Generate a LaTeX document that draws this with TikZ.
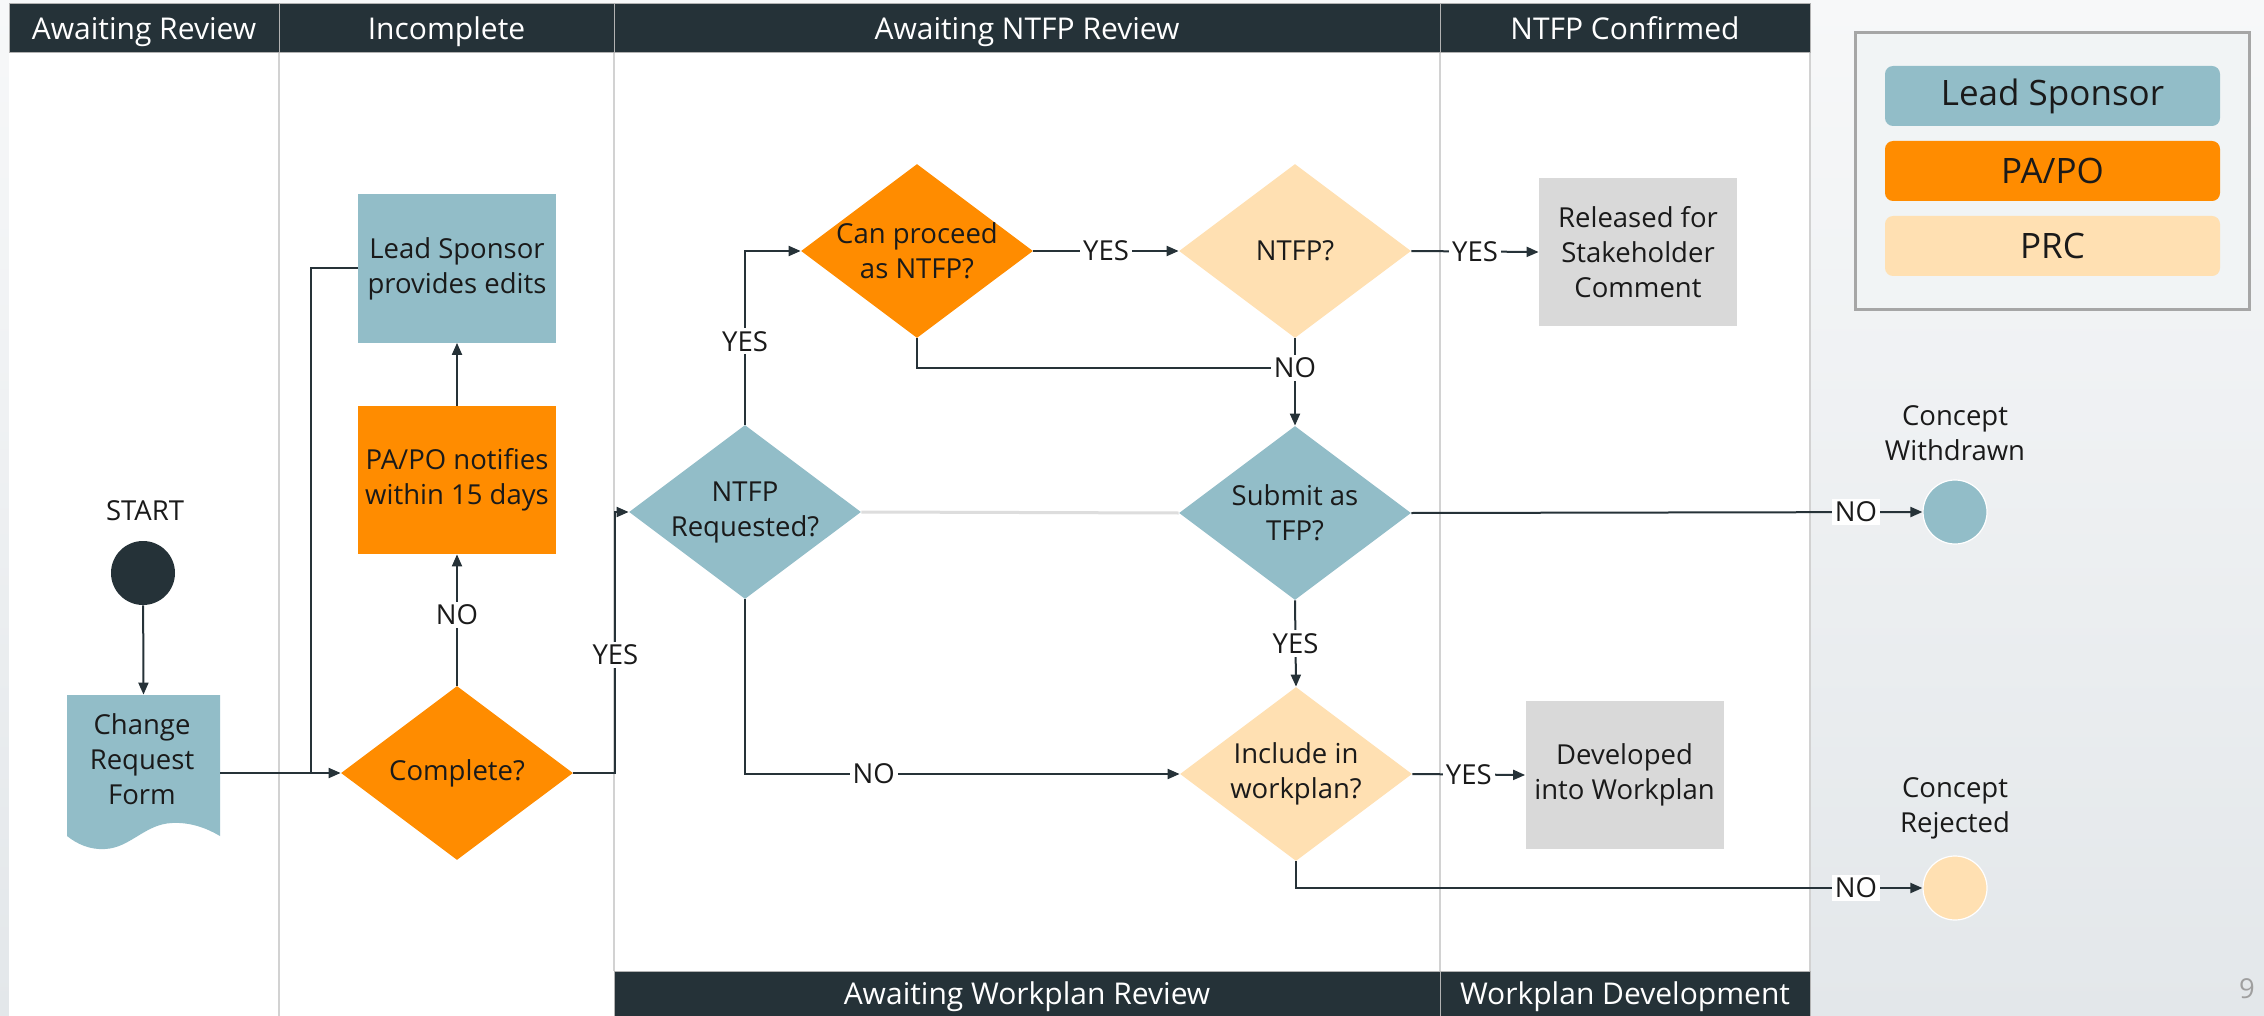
\documentclass[tikz,border=0pt]{standalone}
\usepackage{fontspec}
\setmainfont{Open Sans}
\usetikzlibrary{shapes.geometric,arrows.meta}
\definecolor{hdr}{HTML}{253238}
\definecolor{tealc}{HTML}{92BDC8}
\definecolor{orng}{HTML}{FF8C00}
\definecolor{peach}{HTML}{FFE0B2}
\definecolor{lgray}{HTML}{D9D9D9}
\definecolor{ink}{HTML}{263238}
\definecolor{txt}{HTML}{1A1A1A}
\definecolor{lanec}{HTML}{D2D2D2}
\definecolor{bgtop}{HTML}{F7F8F9}
\definecolor{bgbot}{HTML}{E3E7EA}
\definecolor{legfill}{HTML}{F1F4F5}
\definecolor{legbd}{HTML}{A6A6A6}
\newcommand\myfont{\fontsize{13.75pt}{17.5pt}\selectfont}
\newcommand\hdrfont{\fontsize{15pt}{18pt}\selectfont}
\tikzset{
  hdrcell/.style={fill=hdr, draw=gray!60, line width=0.5pt, text=white, font=\hdrfont, inner sep=0pt, text height=10.7pt, text depth=0pt},
  box/.style={minimum width=99pt, minimum height=74pt, inner sep=0pt, align=center, text=txt, font=\myfont},
  dia/.style={diamond, aspect=1.333, minimum width=116pt, minimum height=87pt, inner sep=0pt},
  dtext/.style={align=center, text=txt, font=\myfont, inner sep=0pt},
  conn/.style={draw=ink, line width=1pt},
  arr/.style={conn, -{Triangle[length=6pt,width=5pt]}},
  lbl/.style={fill=white, inner sep=1.5pt, text=txt, font=\myfont},
  endc/.style={circle, minimum size=32pt, inner sep=0pt},
  legitem/.style={rounded corners=4pt, minimum width=167.5pt, minimum height=30pt, inner sep=0pt, font=\fontsize{17.5pt}{20pt}\selectfont, text=txt},
  lanel/.style={draw=lanec, line width=0.6pt}
}
\begin{document}
\begin{tikzpicture}[x=0.5pt,y=-0.5pt]
\useasboundingbox (0,0) rectangle (2264,1016);
\shade[top color=bgtop, bottom color=bgbot] (0,0) rectangle (2264,1016);
\fill[white] (9,53) rectangle (1810,1016);
% lane dividers
\draw[lanel] (279,53) -- (279,1016);
\draw[lanel] (614,53) -- (614,971);
\draw[lanel] (1440,53) -- (1440,971);
\draw[lanel] (1810,53) -- (1810,1016);
% headers
\node[hdrcell, minimum width=135pt, minimum height=24.5pt] (h1) at (144,28.5) {Awaiting Review};
\node[hdrcell, minimum width=167.5pt, minimum height=24.5pt] (h2) at (446.5,28.5) {Incomplete};
\node[hdrcell, minimum width=413pt, minimum height=24.5pt] (h3) at (1027,28.5) {Awaiting NTFP Review};
\node[hdrcell, minimum width=185pt, minimum height=24.5pt] (h4) at (1625,28.5) {NTFP Confirmed};
\node[hdrcell, minimum width=413pt, minimum height=22.5pt] (h5) at (1027,993.5) {Awaiting Workplan Review};
\node[hdrcell, minimum width=185pt, minimum height=22.5pt] (h6) at (1625,993.5) {Workplan Development};
% legend
\node[draw=legbd, line width=1.5pt, fill=legfill, minimum width=197pt, minimum height=138pt] (legend) at (2052,171) {};
\node[legitem, fill=tealc] (lg1) at (2052.5,96) {Lead Sponsor};
\node[legitem, fill=orng] (lg2) at (2052.5,171) {PA/PO};
\node[legitem, fill=peach] (lg3) at (2052.5,246) {PRC};
\node[text=gray!75, font=\myfont] (pg) at (2247,989) {9};
% start
\node[font=\myfont, text=txt] (starttxt) at (145,511) {START};
\node[endc, fill=hdr] (start) at (143,573) {};
% document
\fill[tealc] (67,695) -- (220,695) -- (220,836) .. controls (208,829) and (192,822) .. (172,823) .. controls (145,824) and (130,848) .. (105,849) .. controls (90,850) and (77,844) .. (67,836) -- cycle;
\node[inner sep=0pt, minimum width=76.5pt, minimum height=70.5pt] (doc) at (143.5,765.5) {};
\node[dtext] (doctxt) at (142,759) {Change\\Request\\Form};
% boxes
\node[box, fill=tealc] (lead) at (457,268.5) {Lead Sponsor\\provides edits};
\node[box, fill=orng] (papo) at (457,480) {PA/PO notifies\\within 15 days};
\node[box, fill=lgray] (rel) at (1638,252) {Released for\\Stakeholder\\Comment};
\node[box, fill=lgray] (dev) at (1624.5,775) {Developed\\into Workplan};
% diamonds
\node[dia, fill=orng] (cmp) at (457,773) {};
\node[dtext] (cmptxt) at (cmp) {Complete?};
\node[dia, fill=tealc] (ntreq) at (745,512) {};
\node[dtext] (ntreqtxt) at (ntreq) {NTFP\\Requested?};
\node[dia, fill=orng] (canp) at (917,251) {};
\node[dtext] (canptxt) at (canp) {Can proceed\\as NTFP?};
\node[dia, fill=peach] (ntfp) at (1295,251) {};
\node[dtext] (ntfptxt) at (ntfp) {NTFP?};
\node[dia, fill=tealc] (sub) at (1295,513) {};
\node[dtext] (subtxt) at (sub) {Submit as\\TFP?};
\node[dia, fill=peach] (incl) at (1296,774) {};
\node[dtext] (incltxt) at (incl) {Include in\\workplan?};
% end circles
\node[font=\myfont, text=txt, align=center] (wdtxt) at (1955,433) {Concept\\Withdrawn};
\node[endc, fill=tealc, draw=white, line width=0.6pt] (wd) at (1955,512) {};
\node[font=\myfont, text=txt, align=center] (rjtxt) at (1955,808) {Concept\\Rejected};
\node[endc, fill=peach, draw=white, line width=0.6pt] (rj) at (1955,888) {};
% connectors
\coordinate (j1) at (311,773);
\coordinate (j2) at (1295,368);
\draw[arr] (start) -- (doc.north);
\draw[conn] (lead.west) -| (j1);
\draw[arr] (doc.east |- cmp.west) -- (cmp.west);
\draw[arr] (cmp.north) -- node[lbl, pos=0.54] {NO} (papo.south);
\draw[arr] (papo.north) -- (lead.south);
\draw[arr] (cmp.east) -- ++(42,0) |- node[lbl, pos=0.226] {YES} (ntreq.west);
\draw[arr] (ntreq.north) |- node[lbl, pos=0.24] {YES} (canp.west);
\draw[arr] (canp.east) -- node[lbl] {YES} (ntfp.west);
\draw[arr] (ntfp.east) -- node[lbl] {YES} (rel.west);
\draw[conn] (canp.south) |- (j2);
\draw[arr] (ntfp.south) -- node[lbl, pos=0.34] {NO} (sub.north);
\draw[draw=lgray!90, line width=1.5pt] (ntreq.east) -- (sub.west);
\draw[arr] (sub.east) -- node[lbl, pos=0.87] {NO} (wd.west);
\draw[arr] (sub.south) -- node[lbl] {YES} (incl.north);
\draw[arr] (ntreq.south) |- node[lbl, pos=0.648] {NO} (incl.west);
\draw[arr] (incl.east) -- node[lbl] {YES} (dev.west);
\draw[arr] (incl.south) |- node[lbl, pos=0.947] {NO} (rj.west);
\end{tikzpicture}
\end{document}
